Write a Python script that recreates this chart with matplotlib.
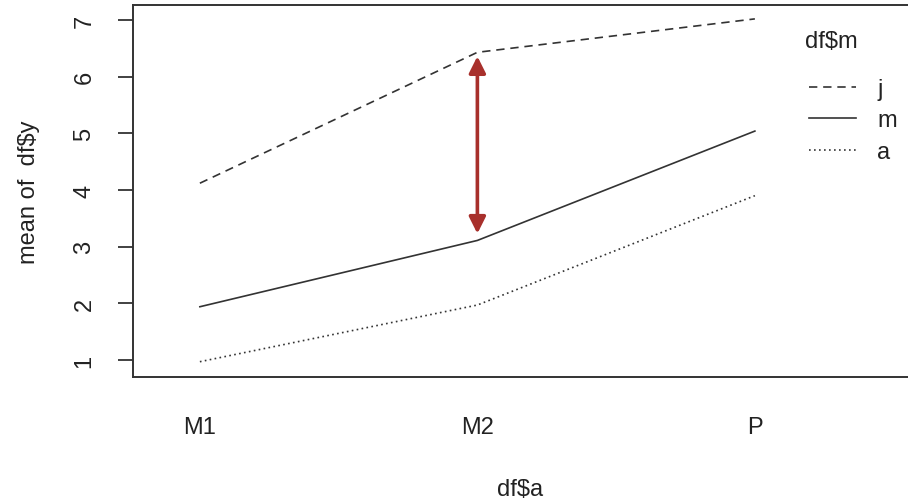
import matplotlib
matplotlib.use("Agg")
from matplotlib import pyplot as plt

plt.rcParams['font.family'] = ['Liberation Sans', 'DejaVu Sans']

# 数据 (interaction plot 的均值)
levels_a = ["M1", "M2", "P"]
mean_j = [4.12, 6.43, 7.02]
mean_m = [1.94, 3.11, 5.04]
mean_a = [0.97, 1.97, 3.90]

x = [1, 2, 3]
ink = '#333333'
txt = '#222222'
fs = 17

fig = plt.figure(figsize=(9.08, 5.02), dpi=100)
ax = fig.add_axes([133 / 908, 124 / 502, 777 / 908, 372 / 502])

# 三条线
ax.plot(x, mean_j, color=ink, lw=1.2, linestyle=(0, (5, 3.5)), label='j')
ax.plot(x, mean_m, color=ink, lw=1.2, linestyle='-', label='m')
ax.plot(x, mean_a, color=ink, lw=1.2, linestyle=(0, (1, 2)), label='a')

# 红色双向箭头 (M2 处 j 和 m 的差)
ax.annotate('', xy=(2, mean_j[1] - 0.07), xytext=(2, mean_m[1] + 0.12),
            arrowprops=dict(arrowstyle='<|-|>', color='#a8302c', lw=2.6,
                            mutation_scale=25, shrinkA=0, shrinkB=0))

ax.set_xlim(0.759, 3.559)
ax.set_ylim(0.70, 7.265)

ax.set_xticks(x)
ax.set_xticklabels(levels_a)
ax.tick_params(axis='x', length=0, pad=28, labelsize=fs, labelcolor=txt)
ax.set_yticks(range(1, 8))
ax.tick_params(axis='y', length=11, width=1.3, color=ink, pad=16,
               labelsize=fs, labelcolor=txt)
for lab in ax.get_yticklabels():
    lab.set_rotation(90)
    lab.set_va('center')

for sp in ax.spines.values():
    sp.set_linewidth(1.4)
    sp.set_color(ink)

ax.set_xlabel('df$a', fontsize=fs, color=txt)
ax.xaxis.set_label_coords(0.498, -0.30)
ax.xaxis.label.set_va('center')
ax.set_ylabel('mean of  df$y', fontsize=fs, color=txt)
ax.yaxis.set_label_coords(-0.134, 0.5)
ax.yaxis.label.set_va('center')

# 图例标题
ax.text((805 - 133) / 777, (378 - 42) / 372, 'df$m', transform=ax.transAxes,
        fontsize=fs, color=txt, ha='left', va='center')

# 图例
leg = ax.legend(loc='upper left', bbox_to_anchor=((809 - 133) / 777, (378 - 79) / 372),
                frameon=False, fontsize=fs, borderpad=0, borderaxespad=0,
                handlelength=2.0, handletextpad=0.9, labelspacing=0.4)
for t in leg.get_texts():
    t.set_color(txt)

fig.savefig('out.png', dpi=100)
